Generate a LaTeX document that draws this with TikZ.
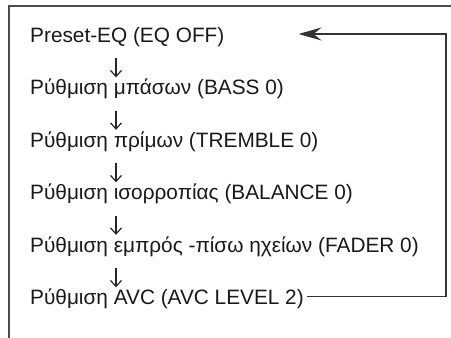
\documentclass[tikz,border=0pt]{standalone}
\usepackage{fontspec}
\setmainfont{Liberation Sans}
\usetikzlibrary{arrows.meta}

\begin{document}
\begin{tikzpicture}[x=1pt, y=-1pt]

    % Styles for the menu lines and the arrows
    \tikzset{
        menuline/.style={anchor=base west, inner sep=0pt, text=black!90,
            font=\fontsize{20.8}{25}\selectfont, text height=15pt, text depth=5pt},
        steparrow/.style={line width=1.2pt, black!85, -{Straight Barb[length=6pt, width=11pt]},
            shorten <=11pt, shorten >=2pt},
        loopline/.style={line width=1.1pt, black!80},
        framebox/.style={line width=1.4pt, black!70}
    }

    \useasboundingbox (0,0) rectangle (451,338);

    % --- FRAME ---
    \draw[framebox] (9,338) -- (9,6) -- (451,6);

    % --- MENU LINES ---
    \node[menuline] (eq) at (30,42) {Preset-EQ (EQ OFF)};
    \node[menuline] (bass) at (30,94.5) {Ρύθμιση μπάσων (BASS 0)};
    \node[menuline] (treble) at (30,147) {Ρύθμιση πρίμων (TREMBLE 0)};
    \node[menuline] (balance) at (30,199.5) {Ρύθμιση ισορροπίας (BALANCE 0)};
    \node[menuline] (fader) at (30,252) {Ρύθμιση εμπρός -πίσω ηχείων (FADER 0)};
    \node[menuline] (avc) at (30,304.5) {Ρύθμιση AVC (AVC LEVEL 2)};

    % --- ARROWS BETWEEN THE LINES ---
    \coordinate (ax) at (116,0);
    \draw[steparrow] (eq.south -| ax) -- (bass.north -| ax);
    \draw[steparrow] (bass.south -| ax) -- (treble.north -| ax);
    \draw[steparrow] (treble.south -| ax) -- (balance.north -| ax);
    \draw[steparrow] (balance.south -| ax) -- (fader.north -| ax);
    \draw[steparrow] (fader.south -| ax) -- (avc.north -| ax);

    % --- BACK TO THE START ---
    \coordinate (rx) at (446,0);
    \coordinate (tip) at ([xshift=74pt, yshift=3pt]eq.east);
    \draw[loopline, -{Stealth[length=23pt, width=13pt, inset=8pt]}]
        ([xshift=3pt, yshift=3pt]avc.east) -| (rx |- tip) -- (tip);

\end{tikzpicture}
\end{document}
